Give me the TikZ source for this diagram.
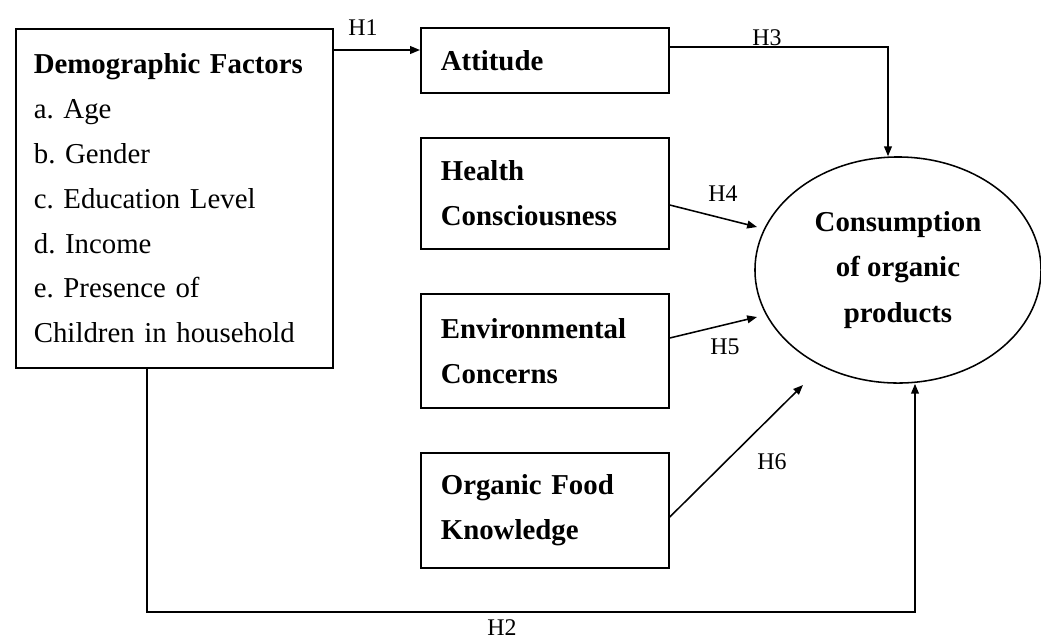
\documentclass[tikz,border=0pt]{standalone}
\usepackage{fontspec}
\setmainfont{Liberation Serif}
\usetikzlibrary{arrows.meta}
\usetikzlibrary{shapes.geometric}
\usetikzlibrary{positioning}
\frenchspacing

\begin{document}
\begin{tikzpicture}[x=0.025cm,y=-0.025cm,
    box/.style={draw,line width=1.2pt,anchor=north west,inner ysep=0pt,align=left,
        font=\fontsize{20.5}{31.9}\selectfont},
    factorbox/.style={box,inner xsep=0.5cm,text width=5.2cm,minimum width=6.2cm,
        font=\fontsize{20.5}{31.9}\selectfont\bfseries},
    arr/.style={line width=1.1pt,-{Triangle[length=7pt,width=5.5pt]}},
    hlab/.style={inner sep=0pt,font=\fontsize{17}{20}\selectfont}]

    \useasboundingbox (0,0) rectangle (1041,641);

    % boxes
    \node[box,inner xsep=0.45cm,text width=7.025cm,minimum width=7.925cm,minimum height=8.475cm]
        (demo) at (15,28) {\textbf{Demographic Factors}\\a. Age\\b. Gender\\c. Education Level\\d. Income\\e. Presence of\\Children in household};
    \node[factorbox,minimum height=1.625cm] (att) at (420,27) {Attitude};
    \node[factorbox,minimum height=2.775cm] (hc) at (420,137) {Health\\Consciousness};
    \node[factorbox,minimum height=2.85cm] (env) at (420,293) {Environmental\\Concerns};
    \node[factorbox,minimum height=2.875cm] (ofk) at (420,452) {Organic Food\\Knowledge};

    \node[draw,ellipse,line width=1.1pt,minimum width=7.15cm,minimum height=5.65cm,inner sep=0pt,
        align=center,font=\fontsize{20.5}{32.3}\selectfont\bfseries]
        (cons) at (898,270) {Consumption\\of organic\\products};

    % free arrow ends near the ellipse
    \coordinate (c4) at (757,227);
    \coordinate (c5) at (757,317);
    \coordinate (c6) at (803,385);

    % connectors
    \draw[arr] (demo.north east |- 0,50) -- (att.west |- 0,50);
    \draw[arr] (demo.south -| 147,0) -- (147,612) -| (cons.south -| 915,0);
    \draw[arr] (att.east |- 0,47) -| (cons.north -| 888,0);
    \draw[arr] (hc.east |- 0,205) -- (c4);
    \draw[arr] (env.east |- 0,338) -- (c5);
    \draw[arr] (ofk.east |- 0,517) -- (c6);

    % labels
    \node[hlab] (h1) at (363,28) {H1};
    \node[hlab] (h2) at (502,628) {H2};
    \node[hlab] (h3) at (767,38) {H3};
    \node[hlab] (h4) at (723,194) {H4};
    \node[hlab] (h5) at (725,347) {H5};
    \node[hlab] (h6) at (772,462) {H6};
\end{tikzpicture}
\end{document}
